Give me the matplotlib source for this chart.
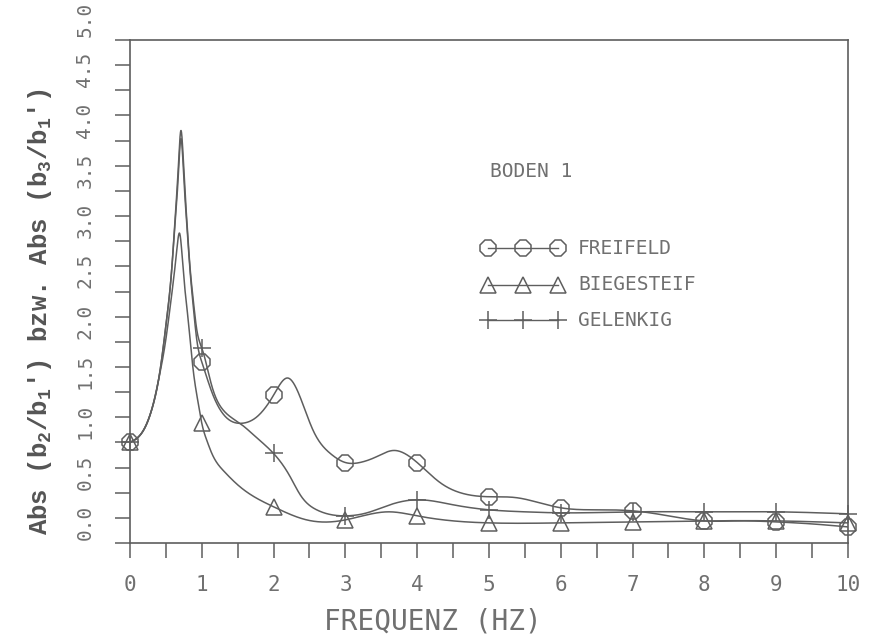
import numpy as np
import matplotlib
matplotlib.use("Agg")
import matplotlib.pyplot as plt
from matplotlib.transforms import blended_transform_factory

# ---- data: amplitude ratio vs. frequency (Hz) ----
# curve support points for each case (frequency, amplitude)
f_frei = [0.0, 0.16, 0.30, 0.42, 0.51, 0.58, 0.627, 0.67, 0.71, 0.75, 0.79, 0.836, 0.88, 0.93, 1.0,
          1.14, 1.3, 1.55, 1.76, 2.0, 2.2, 2.37, 2.55, 2.79, 3.0, 3.2, 3.44, 3.67, 3.85, 4.0,
          4.32, 4.6, 5.0, 5.39, 5.7, 6.0, 6.5, 7.0, 7.5, 8.0, 8.5, 9.0, 9.5, 10.0]
a_frei = [1.0, 1.09, 1.32, 1.72, 2.22, 2.71, 3.18, 3.62, 4.02, 3.62, 3.18, 2.71, 2.36, 2.02, 1.80,
          1.50, 1.28, 1.19, 1.25, 1.47, 1.64, 1.45, 1.12, 0.89, 0.80, 0.80, 0.86, 0.92, 0.88, 0.80,
          0.60, 0.50, 0.46, 0.45, 0.40, 0.35, 0.33, 0.32, 0.27, 0.22, 0.22, 0.21, 0.19, 0.16]

f_bieg = [0.0, 0.16, 0.30, 0.42, 0.49, 0.56, 0.60, 0.65, 0.69, 0.74, 0.81, 0.88, 0.95, 1.0,
          1.07, 1.14, 1.3, 1.53, 2.0, 2.46, 2.79, 3.0, 3.3, 3.6, 4.0, 4.5, 5.0, 6.0, 7.0, 8.0, 9.0, 10.0]
a_bieg = [1.0, 1.09, 1.32, 1.70, 1.98, 2.35, 2.58, 2.90, 3.08, 2.72, 2.22, 1.72, 1.39, 1.19,
          1.02, 0.89, 0.72, 0.56, 0.36, 0.23, 0.21, 0.23, 0.28, 0.31, 0.27, 0.22, 0.20, 0.20, 0.21,
          0.22, 0.22, 0.20]

f_gel = [0.0, 0.16, 0.30, 0.42, 0.51, 0.58, 0.627, 0.67, 0.71, 0.75, 0.79, 0.836, 0.88, 0.93, 1.0,
         1.14, 1.3, 1.53, 1.76, 2.0, 2.23, 2.37, 2.6, 3.0, 3.3, 3.62, 4.0, 4.5, 5.0, 5.5,
         6.0, 7.0, 8.0, 9.0, 10.0]
a_gel = [1.0, 1.09, 1.32, 1.72, 2.22, 2.71, 3.21, 3.70, 4.10, 3.70, 3.22, 2.74, 2.42, 2.12, 1.94,
         1.56, 1.32, 1.19, 1.05, 0.89, 0.66, 0.48, 0.33, 0.27, 0.30, 0.38, 0.43, 0.38, 0.33, 0.31,
         0.30, 0.31, 0.31, 0.31, 0.29]

y_labels = [0.0, 0.5, 1.0, 1.5, 2.0, 2.5, 3.0, 3.5, 4.0, 4.5, 5.0]
series_names = ["FREIFELD", "BIEGESTEIF", "GELENKIG"]

INK = "#5e5e5e"
TXT = "#707070"


def natural_spline(x, y, xs):
    """Natural cubic spline through (x, y), evaluated at xs."""
    x = np.asarray(x, float)
    y = np.asarray(y, float)
    n = len(x)
    h = np.diff(x)
    A = np.zeros((n, n))
    r = np.zeros(n)
    A[0, 0] = A[-1, -1] = 1.0
    for i in range(1, n - 1):
        A[i, i - 1] = h[i - 1]
        A[i, i] = 2 * (h[i - 1] + h[i])
        A[i, i + 1] = h[i]
        r[i] = 6 * ((y[i + 1] - y[i]) / h[i] - (y[i] - y[i - 1]) / h[i - 1])
    M = np.linalg.solve(A, r)
    idx = np.clip(np.searchsorted(x, xs) - 1, 0, n - 2)
    x0, x1 = x[idx], x[idx + 1]
    hh = h[idx]
    a = (x1 - xs) / hh
    b = (xs - x0) / hh
    return (a * y[idx] + b * y[idx + 1]
            + ((a**3 - a) * M[idx] + (b**3 - b) * M[idx + 1]) * hh**2 / 6)


def at_integers(f, a):
    f = np.asarray(f)
    a = np.asarray(a)
    sel = np.isclose(f, np.round(f))
    return f[sel], a[sel]


fig = plt.figure(figsize=(8.69, 6.39), dpi=100)
fig.patch.set_facecolor("white")
ax = fig.add_axes([0.1496, 0.1502, 0.8262, 0.7872])

xs = np.linspace(0, 10, 3000)
styles = [
    (f_frei, a_frei, dict(marker="8", ms=12, mfc="none", mec=INK, mew=1.1)),
    (f_bieg, a_bieg, dict(marker="^", ms=11, mfc="none", mec=INK, mew=1.1)),
    (f_gel, a_gel, dict(marker="+", ms=13, mec=INK, mew=1.1)),
]
for f, a, mk in styles:
    ax.plot(xs, natural_spline(f, a, xs), color=INK, lw=1.1, zorder=2)
    fx, fa = at_integers(f, a)
    ax.plot(fx, fa, ls="none", zorder=3, clip_on=False, **mk)

ax.set_xlim(0, 10)
ax.set_ylim(0, 5)
for s in ax.spines.values():
    s.set_color(INK)
    s.set_linewidth(1.2)

xt = np.arange(0, 10.01, 0.5)
ax.set_xticks(xt)
ax.set_xticklabels(["" if v % 1 else str(int(v)) for v in xt])
ax.set_yticks(np.arange(0, 5.01, 0.25))
ax.set_yticklabels([])
ax.tick_params(axis="both", direction="out", length=11, width=1.1, color=INK)
ax.tick_params(axis="x", pad=12, labelsize=15, labelcolor=TXT)
for lab in ax.get_xticklabels():
    lab.set_fontfamily("DejaVu Sans Mono")

# rotated y tick labels that start at their tick
trans = blended_transform_factory(ax.transAxes, ax.transData)
for v in y_labels:
    ax.text(-0.063, v + 0.03, f"{v:.1f}", transform=trans, rotation=90,
            rotation_mode="anchor", ha="left", va="center",
            fontsize=14, color=TXT, family="DejaVu Sans Mono")

# legend block
ax.text(0.501, 0.7376, "BODEN 1", transform=ax.transAxes, ha="left", va="center",
        fontsize=14, color=TXT, family="DejaVu Sans Mono")
row_y = [0.5865, 0.513, 0.4433]
mx = [0.4986, 0.5474, 0.596]
for (f, a, mk), yy, name in zip(styles, row_y, series_names):
    ax.plot(mx, [yy] * 3, color=INK, lw=1.0, transform=ax.transAxes, clip_on=False, **mk)
    ax.text(0.624, yy, name, transform=ax.transAxes, ha="left", va="center",
            fontsize=14, color=TXT, family="DejaVu Sans Mono")

fig.text(0.498, 0.027, "FREQUENZ (HZ)", ha="center", va="center",
         fontsize=20, color=TXT, family="DejaVu Sans Mono")

plt.rcParams["mathtext.fontset"] = "custom"
plt.rcParams["mathtext.rm"] = "Liberation Mono:bold"
plt.rcParams["mathtext.it"] = "Liberation Mono:bold"
plt.rcParams["mathtext.bf"] = "Liberation Mono:bold"
fig.text(0.046, 0.5125, r"Abs (b$_2$/b$_1$') bzw. Abs (b$_3$/b$_1$')", rotation=90,
         ha="center", va="center", fontsize=18.5, fontweight="bold",
         color="#555555", family="Liberation Mono")

fig.savefig("out.png", dpi=100, facecolor="white")
